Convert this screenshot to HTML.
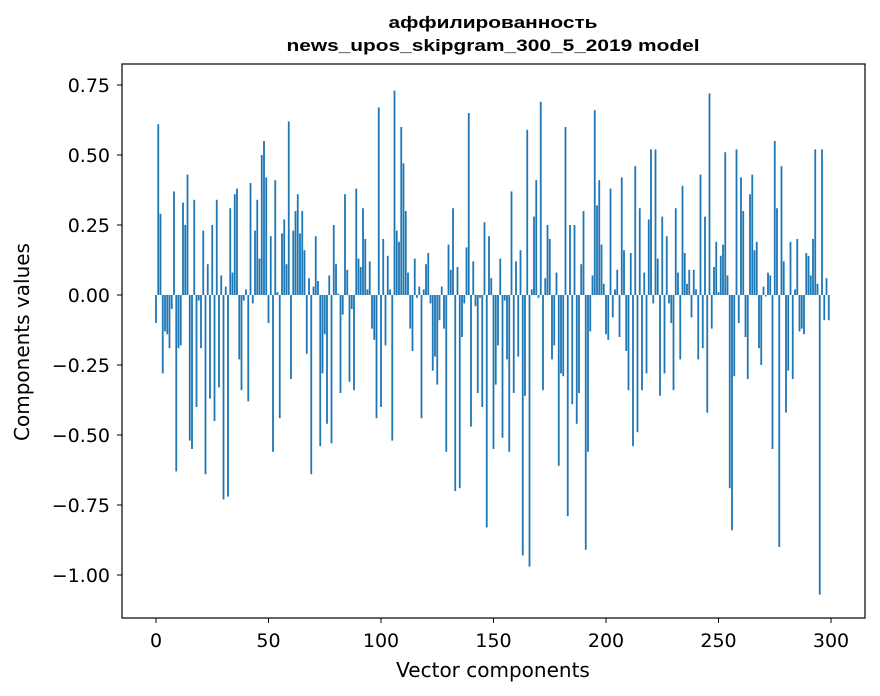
<!DOCTYPE html>
<html><head><meta charset="utf-8">
<style>
html,body{margin:0;padding:0;background:#fff;}
svg{display:block;font-family:"DejaVu Sans","Liberation Sans",sans-serif;}
</style></head>
<body>
<svg id="chart" width="880" height="696" viewBox="0 0 880 696" xmlns="http://www.w3.org/2000/svg">
<rect x="0" y="0" width="880" height="696" fill="#fff"/>
<text x="493" y="28" text-anchor="middle" font-size="16.5" font-weight="bold" font-family="Liberation Sans, sans-serif" textLength="209" lengthAdjust="spacingAndGlyphs">аффилированность</text>
<text x="493" y="51" text-anchor="middle" font-size="16.5" font-weight="bold" font-family="Liberation Sans, sans-serif" textLength="413" lengthAdjust="spacingAndGlyphs">news_upos_skipgram_300_5_2019 model</text>
<g id="bars"></g>
<g id="axes"></g>
<rect x="122" y="64" width="743" height="554" fill="none" stroke="#000" stroke-width="1.2"/>
<text x="493" y="677" text-anchor="middle" font-size="20">Vector components</text>
<text transform="translate(29,342) rotate(-90)" text-anchor="middle" font-size="20">Components values</text>
</svg>
<script>
const values = [
-0.10,0.61,0.29,-0.28,-0.13,-0.14,-0.19,-0.05,0.37,-0.63,
-0.19,-0.18,0.33,0.25,0.43,-0.52,-0.55,0.34,-0.40,-0.02,
-0.19,0.23,-0.64,0.11,-0.37,0.25,-0.45,0.34,-0.33,0.07,
-0.73,0.03,-0.72,0.31,0.08,0.36,0.38,-0.23,-0.34,-0.02,
0.02,-0.38,0.40,-0.03,0.23,0.34,0.13,0.50,0.55,0.42,
-0.10,0.21,-0.56,0.41,0.01,-0.44,0.22,0.27,0.11,0.62,
-0.30,0.23,0.30,0.36,0.22,0.30,0.16,-0.21,0.06,-0.64,
0.03,0.21,0.05,-0.54,-0.28,-0.14,-0.46,0.07,-0.53,0.25,
0.11,0.005,-0.35,-0.07,0.36,0.09,-0.31,-0.05,-0.34,0.38,
0.13,0.10,0.31,0.20,0.02,0.12,-0.12,-0.16,-0.44,0.67,
-0.40,0.20,-0.18,0.14,0.02,-0.52,0.73,0.23,0.19,0.60,
0.47,0.30,0.08,-0.12,-0.20,0.13,-0.01,0.03,-0.44,0.02,
0.11,0.15,-0.03,-0.27,-0.22,-0.32,-0.09,0.03,-0.12,-0.56,
0.18,0.09,0.31,-0.70,0.10,-0.69,-0.15,-0.03,0.17,0.65,
-0.47,0.12,-0.04,-0.35,-0.01,-0.40,0.26,-0.83,0.21,0.06,
-0.55,-0.32,-0.18,0.13,-0.51,-0.02,-0.23,-0.56,0.37,-0.35,
0.12,-0.22,0.16,-0.93,-0.36,0.59,-0.97,0.02,0.28,0.41,
-0.01,0.69,-0.34,0.06,0.25,0.20,-0.23,-0.18,0.08,-0.61,
-0.28,-0.29,0.60,-0.79,0.25,-0.39,0.25,-0.46,-0.35,0.11,
0.30,-0.91,-0.56,-0.13,0.07,0.66,0.32,0.41,0.18,0.04,
-0.14,-0.16,0.38,-0.08,0.02,0.09,-0.15,0.42,0.16,-0.20,
-0.34,0.15,-0.54,0.46,-0.49,0.31,-0.34,0.08,-0.28,0.27,
0.52,-0.03,0.52,0.13,-0.36,0.28,-0.28,0.21,-0.03,-0.10,
-0.34,0.31,0.08,-0.23,0.39,0.15,0.04,0.09,-0.08,0.09,
0.02,-0.23,0.43,-0.19,0.28,-0.42,0.72,-0.12,0.10,0.19,
0.01,0.14,0.18,0.51,0.07,-0.69,-0.84,-0.29,0.52,-0.10,
0.42,0.30,-0.15,-0.30,0.36,0.43,0.16,0.19,-0.19,-0.25,
0.03,-0.005,0.08,0.07,-0.55,0.55,0.31,-0.90,0.46,0.12,
-0.42,-0.27,0.19,-0.30,0.02,0.20,-0.13,-0.12,-0.14,0.15,
0.14,0.07,0.20,0.52,0.04,-1.07,0.52,-0.09,0.06,-0.09
];
const xTicks = [0,50,100,150,200,250,300];
const yTicks = [0.75,0.5,0.25,0,-0.25,-0.5,-0.75,-1.0];
const yTickLabels = ["0.75","0.50","0.25","0.00","\u22120.25","\u22120.50","\u22120.75","\u22121.00"];

const NS = "http://www.w3.org/2000/svg";
const X0 = 156, XS = 2.25;
const Y0 = 295, YS = 280;
function xScale(v){ return X0 + v*XS; }
function yScale(v){ return Y0 - v*YS; }

const gb = document.getElementById('bars');
values.forEach((v,i)=>{
  const r = document.createElementNS(NS,'rect');
  const w = 0.8*XS;
  const y1 = yScale(Math.max(v,0)), y2 = yScale(Math.min(v,0));
  r.setAttribute('x', xScale(i)-w/2);
  r.setAttribute('y', y1);
  r.setAttribute('width', w);
  r.setAttribute('height', Math.max(y2-y1,0.3));
  r.setAttribute('fill','#1f77b4');
  
  
  gb.appendChild(r);
});

const ga = document.getElementById('axes');
xTicks.forEach(t=>{
  const x = xScale(t);
  const l = document.createElementNS(NS,'line');
  l.setAttribute('x1',x); l.setAttribute('x2',x);
  l.setAttribute('y1',618); l.setAttribute('y2',623);
  l.setAttribute('stroke','#000');
  
  
  ga.appendChild(l);
  const tx = document.createElementNS(NS,'text');
  tx.setAttribute('x',x); tx.setAttribute('y',647);
  tx.setAttribute('text-anchor','middle'); tx.setAttribute('font-size','19');
  tx.textContent = String(t);
  
  
  ga.appendChild(tx);
});
yTicks.forEach((t,k)=>{
  const y = yScale(t);
  const l = document.createElementNS(NS,'line');
  l.setAttribute('x1',117); l.setAttribute('x2',122);
  l.setAttribute('y1',y); l.setAttribute('y2',y);
  l.setAttribute('stroke','#000');
  
  
  ga.appendChild(l);
  const tx = document.createElementNS(NS,'text');
  tx.setAttribute('x',110); tx.setAttribute('y',y+7);
  tx.setAttribute('text-anchor','end'); tx.setAttribute('font-size','19');
  tx.textContent = yTickLabels[k];
  
  
  ga.appendChild(tx);
});
</script>
</body></html>
